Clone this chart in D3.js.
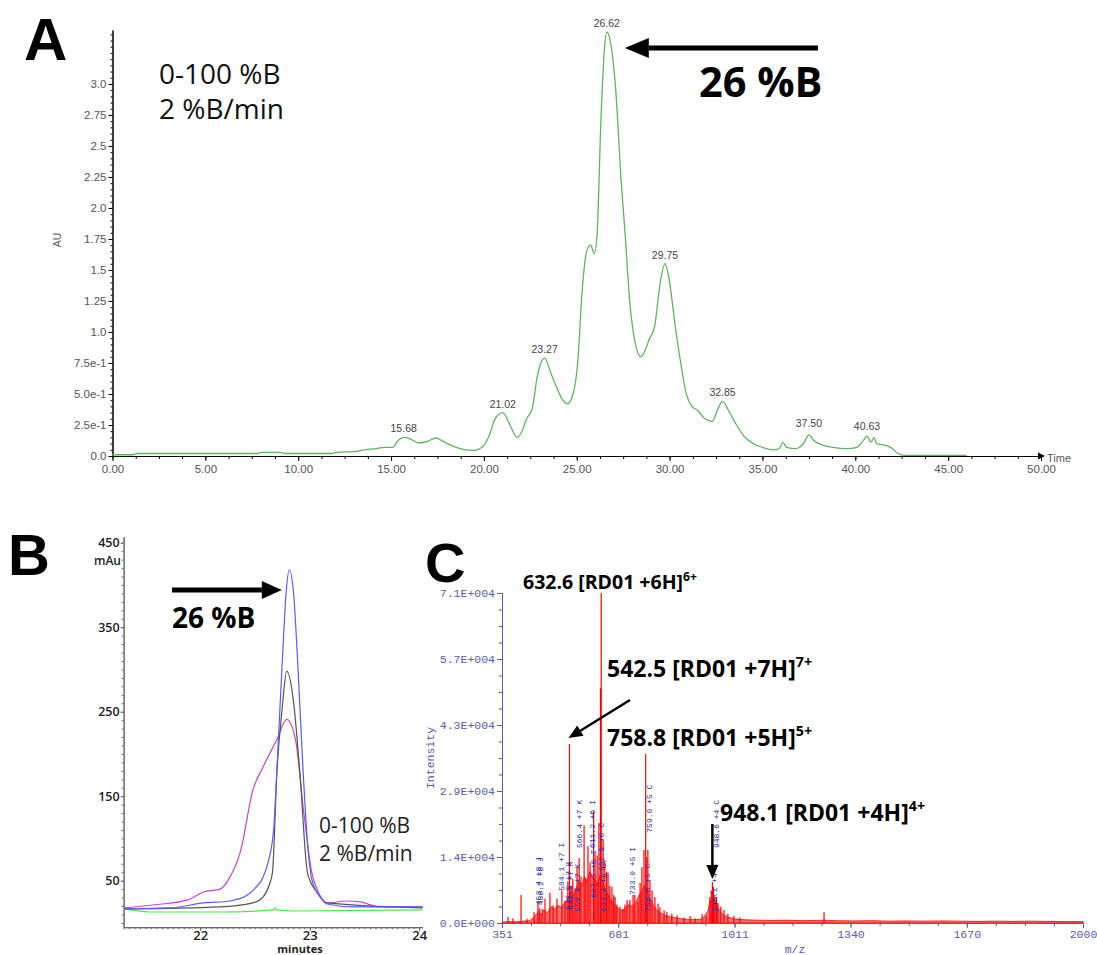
<!DOCTYPE html>
<html>
<head>
<meta charset="utf-8">
<script src="https://cdn.jsdelivr.net/npm/d3@7"></script>
<style>
body { margin: 0; background: #fff; }
svg text { font-family: "Liberation Sans", Arial, sans-serif; }
</style>
</head>
<body>
<svg id="fig" width="1097" height="955"></svg>
<script>
// ---------- panel A : UV chromatogram ----------
var aTime = [0, 1.1, 1.3, 7.8, 8.0, 9.0, 9.3, 11.8, 12.1, 13.0, 13.6, 14.2, 14.6, 15.1, 15.35, 15.68, 16.0, 16.5, 17.0, 17.4,
    17.9, 18.4, 19.0, 19.5, 19.9, 20.3, 20.6, 21.02, 21.4, 21.8, 22.05, 22.3, 22.6, 22.85, 23.0, 23.27, 23.6, 23.9, 24.25, 24.5,
    24.8, 25.05, 25.3, 25.55, 25.75, 25.95, 26.1, 26.3, 26.5, 26.62, 26.8, 27.1, 27.4, 27.6, 27.85, 28.1, 28.45, 28.65, 28.9, 29.2,
    29.45, 29.75, 30.0, 30.3, 30.6, 30.9, 31.2, 31.5, 31.9, 32.3, 32.6, 32.85, 33.2, 33.6, 34.0, 34.5, 35.0, 35.6, 35.9, 36.1,
    36.3, 36.8, 37.2, 37.5, 37.8, 38.2, 38.8, 39.5, 40.1, 40.4, 40.63, 40.85, 41.0, 41.15, 41.5, 41.9, 42.3, 42.6, 46.0];
var aAU = [0.01, 0.01, 0.02, 0.02, 0.03, 0.03, 0.02, 0.02, 0.03, 0.035, 0.05, 0.06, 0.07, 0.07, 0.12, 0.15, 0.14, 0.105, 0.12, 0.145,
    0.11, 0.075, 0.05, 0.045, 0.07, 0.17, 0.30, 0.35, 0.25, 0.15, 0.2, 0.3, 0.38, 0.62, 0.72, 0.79, 0.67, 0.56, 0.45, 0.42,
    0.5, 0.75, 1.35, 1.66, 1.7, 1.63, 1.8, 2.7, 3.3, 3.42, 3.35, 2.95, 2.2, 1.8, 1.25, 0.95, 0.8, 0.84, 0.94, 1.05,
    1.35, 1.55, 1.4, 1.05, 0.75, 0.5, 0.4, 0.37, 0.3, 0.28, 0.38, 0.44, 0.36, 0.25, 0.16, 0.1, 0.07, 0.05, 0.06, 0.11,
    0.07, 0.06, 0.1, 0.17, 0.12, 0.09, 0.07, 0.06, 0.07, 0.12, 0.16, 0.11, 0.15, 0.1, 0.09, 0.07, 0.02, 0.005, 0.005];
var aPeakTimes = [15.68, 21.02, 23.27, 26.62, 29.75, 32.85, 37.50, 40.63];
var aPeakAU = [0.15, 0.35, 0.79, 3.42, 1.55, 0.44, 0.19, 0.17];
var aXTicks = [0, 5, 10, 15, 20, 25, 30, 35, 40, 45, 50];
var aYTicks = [0, 0.25, 0.5, 0.75, 1.0, 1.25, 1.5, 1.75, 2.0, 2.25, 2.5, 2.75, 3.0];
var aYLabels = ['0.0', '2.5e-1', '5.0e-1', '7.5e-1', '1.0', '1.25', '1.5', '1.75', '2.0', '2.25', '2.5', '2.75', '3.0'];

// ---------- panel B : overlaid traces ----------
var blueT = [21.31, 21.73, 22.03, 22.27, 22.43, 22.50, 22.57, 22.62, 22.67, 22.70, 22.75, 22.785, 22.813, 22.85, 22.895, 22.94, 22.985, 23.02, 23.10, 23.16, 23.40, 24.03];
var blueV = [16.6, 17.8, 23.7, 26, 33, 41, 53, 72, 110, 181, 311, 392, 418, 394, 296, 178, 86, 51, 30, 22.5, 19, 19];
var blackT = [21.31, 22.18, 22.48, 22.575, 22.63, 22.66, 22.70, 22.75, 22.79, 22.85, 22.91, 22.98, 23.07, 23.16, 24.03];
var blackV = [16.6, 19, 23.7, 31, 45, 60, 178, 256, 298, 264, 178, 59, 35.5, 23.7, 17.8];
var magentaT = [21.31, 21.57, 21.88, 22.03, 22.18, 22.27, 22.37, 22.48, 22.575, 22.70, 22.79, 22.87, 22.94, 23.02, 23.07, 23.16, 23.34, 23.46, 23.64, 24.03];
var magentaV = [17.8, 21.3, 27, 36.7, 40, 54, 86, 157, 185, 217, 241, 217, 137, 59, 39, 23.7, 26, 24.9, 19, 19];
var greenT = [21.31, 21.54, 22.18, 22.67, 22.685, 22.70, 22.85, 24.03];
var greenV = [16.6, 13, 13, 15.4, 17.8, 15.4, 14.2, 15.4];
var bXTicks = [22, 23, 24];
var bYTicks = [50, 150, 250, 350, 450];

// ---------- panel C : mass spectrum ----------
var cPeakMz = [368, 382, 405, 422, 442, 453, 458, 465, 473, 487, 496, 507, 521, 530, 538, 542.5, 547, 552, 558, 564,
    570, 575, 584, 589, 595, 601, 611, 615, 621, 626, 630.5, 632.6, 638, 643, 648, 652, 657, 663, 668, 672,
    677, 686, 694, 700, 706, 714, 723, 728, 737, 743, 748, 754, 758.8, 762, 765, 771, 777, 785, 794, 799,
    811, 819, 833, 848, 868, 885, 899, 919, 930, 941, 945, 948.1, 951, 955, 960, 964, 972, 981, 992, 1009,
    1026, 1265];
var cPeakInt = [1300, 1000, 6000, 900, 2300, 4500, 3200, 3000, 5200, 6500, 3800, 5200, 7000, 4800, 9000, 38500, 8000, 9500, 7500, 12000,
    14000, 10000, 21000, 9500, 16500, 13000, 24000, 15000, 14500, 21500, 50500, 71000, 18000, 13500, 11000, 10800, 8000, 7800, 6000, 5600,
    4000, 3500, 3000, 4000, 4900, 5000, 6000, 6000, 4500, 8600, 12000, 15700, 36400, 14200, 15700, 9300, 7000, 5600, 4200, 3400,
    2700, 2400, 2000, 1600, 1200, 1500, 1000, 1900, 1400, 5600, 7000, 8800, 7750, 6000, 5600, 4300, 3500, 2800, 2000, 1500,
    1200, 2300];
var cNoiseMz = [351, 370, 390, 410, 430, 445, 455, 462, 470, 480, 490, 500, 510, 520, 530, 540, 548, 555, 562, 570,
    578, 585, 592, 600, 608, 615, 622, 630, 638, 645, 652, 660, 668, 676, 684, 692, 700, 710, 720, 730,
    740, 748, 755, 762, 770, 780, 790, 800, 815, 830, 845, 860, 880, 900, 920, 935, 942, 950, 958, 966,
    975, 990, 1010, 1040, 1080, 1120, 1160, 1200, 1240, 1265, 1300, 1350, 1400, 1450, 1500, 1550, 1600, 1650, 1700, 1750,
    1800, 1850, 1900, 1950, 2000];
var cNoiseInt = [200, 300, 250, 400, 500, 1500, 2500, 1800, 2800, 2200, 3500, 3000, 3800, 3300, 4500, 5500, 7000, 6000, 7500, 9000,
    8000, 10000, 9000, 11000, 10000, 9500, 8000, 10500, 8500, 7000, 6000, 5000, 4200, 3500, 3000, 2600, 3200, 4000, 3600, 4200,
    6000, 7000, 8000, 7500, 5500, 4000, 2800, 2200, 1600, 1300, 1100, 900, 800, 700, 900, 2500, 5000, 5500, 4500, 3000,
    2000, 1300, 900, 700, 600, 550, 600, 500, 550, 600, 500, 450, 500, 400, 450, 400, 450, 400, 350, 400,
    350, 400, 350, 300, 300];
var cLabelMz = [455, 462, 521, 541, 548, 568, 572, 609, 612, 635, 640, 723, 765, 772, 955, 962];
var cLabelBase = [3400, 3400, 6500, 2500, 2500, 2000, 15700, 15700, 5000, 10750, 2000, 5600, 2000, 19000, 2000, 15700];
var cLabelText = ['453.4 +8 J', '458.2 +8 J', '504.1 +7 I', '542.5 +7 K', '542.9 +7 K', '550.4 +7 K', '566.4 +7 K', '611.2 +6 I',
    '607.3 +6 I', '632.9 +6 C', '633.4 +6 C', '733.0 +5 I', '758.8 +5 C', '759.0 +5 C', '948.1 +4 C', '948.6 +4 C'];
var cXTicks = [351, 681, 1011, 1340, 1670, 2000];
var cYTicks = [0, 14200, 28400, 42600, 56800, 71000];
var cYLabels = ['0.0E+000', '1.4E+004', '2.9E+004', '4.3E+004', '5.7E+004', '7.1E+004'];

var svg = d3.select('#fig');

// draws a thick straight arrow ending in a filled head at (x2,y2)
var arrow = function (x1, y1, x2, y2, w, headLen, headHalf) {
    var ang = Math.atan2(y2 - y1, x2 - x1);
    var bx = x2 - headLen * Math.cos(ang), by = y2 - headLen * Math.sin(ang);
    var nx = -Math.sin(ang), ny = Math.cos(ang);
    svg.append('line').attr('x1', x1).attr('y1', y1).attr('x2', bx).attr('y2', by)
        .attr('stroke', '#000').attr('stroke-width', w);
    svg.append('polygon')
        .attr('points', [[x2, y2], [bx + nx * headHalf, by + ny * headHalf], [bx - nx * headHalf, by - ny * headHalf]].join(' '))
        .attr('fill', '#000');
};

var styleAxis = function (g, color, textColor, size, family) {
    g.selectAll('path.domain').attr('stroke', color);
    g.selectAll('line').attr('stroke', color);
    g.selectAll('text').attr('fill', textColor).style('font-size', size).style('font-family', family);
};

//==== panel A ====
var xA = d3.scaleLinear().domain([0, 50]).range([112.5, 1041]);
var yA = d3.scaleLinear().domain([0, 3.435]).range([456, 30]);

var gA = svg.append('g');
gA.append('g').attr('transform', 'translate(0,456)')
    .call(d3.axisBottom(xA).tickValues(d3.range(0, 50.01, 1.25)).tickFormat('').tickSize(3).tickSizeOuter(0))
    .call(styleAxis, '#000', '#555', '10px', 'Liberation Sans');
gA.append('g').attr('transform', 'translate(0,456)')
    .call(d3.axisBottom(xA).tickValues(aXTicks).tickFormat(d3.format('.2f')).tickSize(5).tickSizeOuter(0).tickPadding(4))
    .call(styleAxis, '#000', '#555', '11.5px', 'Liberation Sans');
gA.append('g').attr('transform', 'translate(112.5,0)')
    .call(d3.axisLeft(yA).tickValues(d3.range(0, 3.43, 0.05)).tickFormat('').tickSize(2).tickSizeOuter(0))
    .call(styleAxis, '#000', '#555', '10px', 'Liberation Sans');
gA.append('g').attr('transform', 'translate(112.5,0)')
    .call(d3.axisLeft(yA).tickValues(aYTicks).tickFormat(function (d, i) { return aYLabels[i]; }).tickSize(4).tickSizeOuter(0).tickPadding(2))
    .call(styleAxis, '#000', '#555', '11.5px', 'Liberation Sans');
// arrow tip of time axis
gA.append('polygon')
    .attr('points', [[xA(50) + 4, 456], [xA(50) - 3, 452.5], [xA(50) - 3, 459.5]].join(' '))
    .attr('fill', '#000');
gA.append('text').attr('x', xA(50) + 6).attr('y', 462).attr('fill', '#555').style('font-size', '11px').text('Time');
gA.append('text').attr('transform', 'translate(61,240) rotate(-90)').attr('text-anchor', 'middle')
    .attr('fill', '#555').style('font-size', '10.5px').text('AU');

var lineA = d3.line().x(function (d) { return xA(d[0]); }).y(function (d) { return yA(d[1]); }).curve(d3.curveMonotoneX);
gA.append('path').datum(d3.zip(aTime, aAU)).attr('d', lineA)
    .attr('fill', 'none').attr('stroke', '#5fb55f').attr('stroke-width', 1.3);

gA.selectAll('text.peak').data(d3.zip(aPeakTimes, aPeakAU)).enter().append('text')
    .attr('class', 'peak')
    .attr('x', function (d) { return xA(d[0]); })
    .attr('y', function (d) { return yA(d[1]) - 5; })
    .attr('text-anchor', 'middle').attr('fill', '#444').style('font-size', '10.5px')
    .text(function (d) { return d[0].toFixed(2); });

svg.append('text').attr('x', 24).attr('y', 60).attr('font-weight', 'bold').style('font-size', '60px').text('A');
svg.append('text').attr('x', 159).attr('y', 84).style('font-family', 'Open Sans').style('font-size', '28px').attr('fill', '#111').text('0-100 %B');
svg.append('text').attr('x', 159).attr('y', 119).style('font-family', 'Open Sans').style('font-size', '28px').attr('fill', '#111').text('2 %B/min');
svg.append('text').attr('x', 699).attr('y', 97).style('font-family', 'Open Sans').attr('font-weight', 'bold').style('font-size', '41.5px').text('26 %B');
arrow(818, yA(3.29), xA(26.62) + 18, yA(3.29), 5, 24, 10);

//==== panel B ====
var xB = d3.scaleLinear().domain([21.3, 24.03]).range([123.6, 422.5]);
var yB = d3.scaleLinear().domain([-5, 457]).range([927.2, 536.8]);

var gB = svg.append('g');
gB.append('g').attr('transform', 'translate(0,927.2)')
    .call(d3.axisBottom(xB).tickValues(d3.range(21.3, 24.03, 0.05)).tickFormat('').tickSize(2).tickSizeOuter(0))
    .call(styleAxis, '#666', '#222', '10px', 'Open Sans');
gB.append('g').attr('transform', 'translate(0,927.2)')
    .call(d3.axisBottom(xB).tickValues(bXTicks).tickFormat(d3.format('d')).tickSize(4).tickSizeOuter(0).tickPadding(0))
    .call(styleAxis, '#666', '#222', '13px', 'Open Sans');
gB.selectAll('text').attr('font-weight', 'bold');
gB.append('g').attr('transform', 'translate(123.6,0)')
    .call(d3.axisLeft(yB).tickValues(d3.range(0, 451, 10)).tickFormat('').tickSize(2).tickSizeOuter(0))
    .call(styleAxis, '#666', '#222', '10px', 'Open Sans');
gB.append('g').attr('transform', 'translate(123.6,0)')
    .call(d3.axisLeft(yB).tickValues(bYTicks).tickFormat(d3.format('d')).tickSize(3).tickSizeOuter(0).tickPadding(1))
    .call(styleAxis, '#666', '#222', '12.5px', 'Open Sans');
gB.selectAll('text').attr('font-weight', '600');
gB.append('text').attr('x', 121).attr('y', 565).attr('text-anchor', 'end').attr('fill', '#222')
    .style('font-family', 'Open Sans').attr('font-weight', '600').style('font-size', '12px').text('mAu');
gB.append('text').attr('x', 300).attr('y', 953).attr('text-anchor', 'middle').attr('fill', '#222')
    .style('font-family', 'Open Sans').attr('font-weight', 'bold').style('font-size', '11px').text('minutes');

var lineB = d3.line().x(function (d) { return xB(d[0]); }).y(function (d) { return yB(d[1]); }).curve(d3.curveMonotoneX);
var traces = [[greenT, greenV, '#44ee44'], [magentaT, magentaV, '#cc44cc'], [blackT, blackV, '#555555'], [blueT, blueV, '#5a5aff']];
traces.forEach(function (tr) {
    gB.append('path').datum(d3.zip(tr[0], tr[1])).attr('d', lineB)
        .attr('fill', 'none').attr('stroke', tr[2]).attr('stroke-width', 1.2);
});

svg.append('text').attr('x', 8).attr('y', 575).attr('font-weight', 'bold').style('font-size', '58px').text('B');
arrow(172, yB(394), xB(22.8) - 6, yB(394), 5, 20, 9);
svg.append('text').attr('x', 172).attr('y', 628).style('font-family', 'Open Sans').attr('font-weight', 'bold').style('font-size', '28px').text('26 %B');
svg.append('text').attr('x', 319).attr('y', 833).style('font-family', 'Open Sans').style('font-size', '21px').attr('fill', '#222').text('0-100 %B');
svg.append('text').attr('x', 319).attr('y', 861).style('font-family', 'Open Sans').style('font-size', '21px').attr('fill', '#222').text('2 %B/min');

//==== panel C ====
var xC = d3.scaleLinear().domain([351, 2000]).range([502, 1083]);
var yC = d3.scaleLinear().domain([0, 71000]).range([923, 593]);
var cBlue = '#5a5ab4';

var gC = svg.append('g');
var area = d3.area().x(function (d) { return xC(d[0]); }).y0(yC(0)).y1(function (d) { return yC(d[1]); });
gC.append('path').datum(d3.zip(cNoiseMz, cNoiseInt)).attr('d', area)
    .attr('fill', '#ff2020').attr('fill-opacity', 0.65).attr('stroke', '#ff0000').attr('stroke-width', 0.8);
gC.selectAll('line.stick').data(d3.zip(cPeakMz, cPeakInt)).enter().append('line')
    .attr('class', 'stick')
    .attr('x1', function (d) { return xC(d[0]); }).attr('x2', function (d) { return xC(d[0]); })
    .attr('y1', yC(0)).attr('y2', function (d) { return yC(d[1]); })
    .attr('stroke', '#ff0000').attr('stroke-width', 1.2);

gC.append('g').attr('transform', 'translate(0,923)')
    .call(d3.axisBottom(xC).tickValues(d3.range(351, 2000.1, 329.8 / 4)).tickFormat('').tickSize(3).tickSizeOuter(0))
    .call(styleAxis, cBlue, cBlue, '11px', 'Liberation Mono');
gC.append('g').attr('transform', 'translate(0,923)')
    .call(d3.axisBottom(xC).tickValues(cXTicks).tickFormat(d3.format('d')).tickSize(5).tickSizeOuter(0).tickPadding(2))
    .call(styleAxis, cBlue, cBlue, '11.5px', 'Liberation Mono');
gC.append('g').attr('transform', 'translate(502,0)')
    .call(d3.axisLeft(yC).tickValues(d3.range(0, 71001, 3550)).tickFormat('').tickSize(3).tickSizeOuter(0))
    .call(styleAxis, cBlue, cBlue, '11px', 'Liberation Mono');
gC.append('g').attr('transform', 'translate(502,0)')
    .call(d3.axisLeft(yC).tickValues(cYTicks).tickFormat(function (d, i) { return cYLabels[i]; }).tickSize(5).tickSizeOuter(0).tickPadding(2))
    .call(styleAxis, cBlue, cBlue, '11.5px', 'Liberation Mono');
gC.append('text').attr('transform', 'translate(434,758) rotate(-90)').attr('text-anchor', 'middle')
    .attr('fill', cBlue).style('font-family', 'Liberation Mono').style('font-size', '11.5px').text('Intensity');
gC.append('text').attr('x', 795).attr('y', 953).attr('text-anchor', 'middle')
    .attr('fill', cBlue).style('font-family', 'Liberation Mono').style('font-size', '11.5px').text('m/z');

gC.selectAll('text.ann').data(d3.zip(cLabelMz, cLabelBase, cLabelText)).enter().append('text')
    .attr('class', 'ann')
    .attr('transform', function (d) { return 'translate(' + (xC(d[0]) + 2) + ',' + (yC(d[1]) - 2) + ') rotate(-90)'; })
    .attr('fill', '#2b2bb0').style('font-family', 'Liberation Mono').style('font-size', '8px')
    .text(function (d) { return d[2]; });

svg.append('text').attr('x', 425).attr('y', 582).attr('font-weight', 'bold').style('font-size', '56px').text('C');

var supLabel = function (x, y, main, sup, size) {
    var t = svg.append('text').attr('x', x).attr('y', y).style('font-family', 'Open Sans')
        .attr('font-weight', 'bold').style('font-size', size + 'px');
    t.append('tspan').text(main);
    t.append('tspan').attr('dy', -size * 0.42).style('font-size', (size * 0.62) + 'px').text(sup);
};
supLabel(523, 589, '632.6 [RD01 +6H]', '6+', 19.5);
supLabel(607, 677, '542.5 [RD01 +7H]', '7+', 23);
supLabel(607, 746, '758.8 [RD01 +5H]', '5+', 23);
supLabel(720, 821, '948.1 [RD01 +4H]', '4+', 23);
arrow(630, 700, xC(542.5) - 1, yC(38500) - 6, 2.5, 14, 6);
arrow(xC(948.1), 824, xC(948.1), yC(8800) - 3, 2.5, 14, 6);
</script>
</body>
</html>
